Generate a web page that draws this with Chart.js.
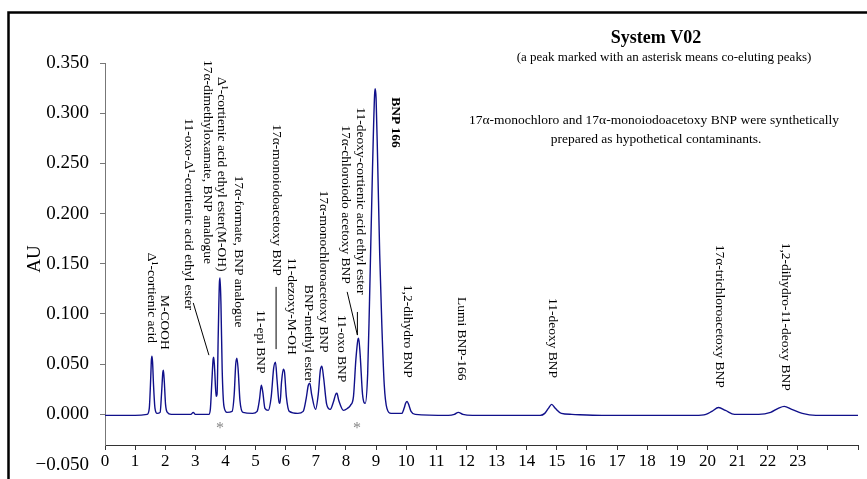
<!DOCTYPE html>
<html>
	<head>
		<title>System V02</title>
		<meta http-equiv="Content-Type" content="text/html; charset=UTF-8" />
		<script src="https://cdn.jsdelivr.net/npm/chart.js@4/dist/chart.umd.min.js"></script>
		<style>
			html, body { margin: 0; padding: 0; background: #fff; }
		</style>
	</head>
	<body>
		<canvas id="myChart" width="867" height="479"></canvas>

		<script>
			// retention time (min) and absorbance (AU)
			var times = [0, 1.0, 1.40, 1.47, 1.52, 1.54, 1.56, 1.58, 1.61, 1.66, 1.73, 1.83, 1.88, 1.92, 1.94, 1.97, 2.01, 2.07, 2.2,
				2.85, 2.93, 3.0, 3.45, 3.50, 3.55, 3.59, 3.61, 3.64, 3.69, 3.72, 3.76, 3.80, 3.82, 3.85, 3.89, 3.95, 4.05,
				4.22, 4.29, 4.34, 4.38, 4.42, 4.48, 4.58, 4.9, 5.05, 5.13, 5.19, 5.24, 5.31, 5.42, 5.52, 5.60, 5.66, 5.71,
				5.78, 5.81, 5.86, 5.92, 5.96, 6.02, 6.12, 6.4, 6.58, 6.68, 6.75, 6.80, 6.86, 6.99, 7.08, 7.15, 7.20, 7.26,
				7.36, 7.48, 7.58, 7.66, 7.70, 7.76, 7.92, 8.05, 8.15, 8.25, 8.33, 8.40, 8.42, 8.47, 8.55, 8.64, 8.72, 8.78,
				8.88, 8.95, 8.97, 9.00, 9.05, 9.12, 9.19, 9.27, 9.36, 9.5, 9.85, 9.93, 9.98, 10.03, 10.08, 10.16, 10.3,
				11.4, 11.6, 11.73, 11.88, 12.2, 14.45, 14.6, 14.72, 14.83, 14.95, 15.15, 15.5, 16.5, 19.6, 19.95, 20.15,
				20.37, 20.6, 20.9, 21.7, 22.1, 22.35, 22.55, 22.8, 23.15, 23.6, 25];
			var au = [-0.001, -0.001, 0.000, 0.006, 0.038, 0.054, 0.058, 0.052, 0.030, 0.006, 0.001, 0.002, 0.022, 0.042, 0.044, 0.032, 0.010, 0.002, 0.000,
				0.000, 0.002, 0.000, 0.000, 0.006, 0.034, 0.055, 0.057, 0.045, 0.018, 0.020, 0.080, 0.132, 0.136, 0.110, 0.045, 0.008, 0.002,
				0.003, 0.020, 0.050, 0.056, 0.045, 0.014, 0.002, 0.001, 0.003, 0.015, 0.029, 0.022, 0.006, 0.004, 0.018, 0.046, 0.052, 0.035,
				0.012, 0.011, 0.032, 0.045, 0.042, 0.018, 0.003, 0.001, 0.003, 0.016, 0.029, 0.031, 0.020, 0.005, 0.020, 0.044, 0.048, 0.036,
				0.010, 0.005, 0.012, 0.020, 0.021, 0.014, 0.004, 0.006, 0.009, 0.018, 0.055, 0.075, 0.076, 0.060, 0.020, 0.011, 0.040, 0.110,
				0.243, 0.318, 0.3245, 0.315, 0.255, 0.160, 0.090, 0.030, 0.006, 0.001, 0.001, 0.006, 0.011, 0.013, 0.010, 0.003, 0.000,
				-0.001, 0.000, 0.002, 0.000, -0.001, -0.001, 0.001, 0.006, 0.010, 0.006, 0.001, 0.000, -0.001, -0.001, 0.000, 0.003,
				0.0068, 0.004, 0.000, 0.000, 0.002, 0.006, 0.008, 0.005, 0.001, -0.001, -0.001];

			// axis ticks
			var xTicks = [0, 1, 2, 3, 4, 5, 6, 7, 8, 9, 10, 11, 12, 13, 14, 15, 16, 17, 18, 19, 20, 21, 22, 23, 24, 25];
			var xTickLabels = ['0', '1', '2', '3', '4', '5', '6', '7', '8', '9', '10', '11', '12', '13', '14', '15', '16', '17', '18', '19', '20', '21', '22', '23', '', ''];
			var yTicks = [0, 0.05, 0.10, 0.15, 0.20, 0.25, 0.30, 0.35];
			var yTickLabels = ['0.000', '0.050', '0.100', '0.150', '0.200', '0.250', '0.300', '0.350'];
			// the time axis crosses the AU axis above its lowest value
			var yAxisBottom = -0.050;
			var xAxisCross = -0.0305;

			// peak names: text, time (min), AU where the text starts
			var peakNames = ['\u0394\u00b9-cortienic acid', 'M-COOH', '11-oxo-\u0394\u00b9-cortienic acid ethyl ester',
				'17\u03b1-dimethyloxamate, BNP analogue', '\u0394\u00b9-cortienic acid ethyl ester(M-OH)', '17\u03b1-formate, BNP analogue',
				'11-epi BNP', '17\u03b1-monoiodoacetoxy BNP', '11-dezoxy-M-OH', 'BNP-methyl ester', '17\u03b1-monochloroacetoxy BNP',
				'11-oxo BNP', '17\u03b1-chloroiodo acetoxy BNP', '11-deoxy-cortienic acid ethyl ester', 'BNP 166', '1,2-dihydro BNP',
				'Lumi BNP-166', '11-deoxy BNP', '17\u03b1-trichloroacetoxy BNP', '1,2-dihydro-11-deoxy BNP'];
			var nameTimes = [1.53, 1.99, 2.79, 3.42, 3.88, 4.42, 5.15, 5.71, 6.21, 6.77, 7.24, 7.87, 7.97, 8.47, 9.63, 10.06, 11.85, 14.87, 20.39, 22.58];
			var nameAU = [0.161, 0.119, 0.295, 0.353, 0.336, 0.238, 0.104, 0.289, 0.156, 0.129, 0.223, 0.099, 0.288, 0.306, 0.316, 0.129, 0.117, 0.116, 0.169, 0.171];

			// leader lines from a name to its peak: [t1, au1, t2, au2]
			var leaders = [[2.93, 0.111, 3.45, 0.059], [5.68, 0.127, 5.68, 0.065], [8.04, 0.122, 8.38, 0.079], [8.38, 0.102, 8.38, 0.079]];
			// co-eluting peaks
			var asteriskTimes = [3.82, 8.37];
			var asteriskAU = -0.0105;

			var serif = 'Liberation Serif, Times New Roman, serif';

			var annotations = {
				id: 'annotations',
				afterDraw: function(chart) {
					var ctx = chart.ctx;
					var xs = chart.scales.x, ys = chart.scales.y;
					var area = chart.chartArea;
					ctx.save();

					// frame round the picture
					ctx.strokeStyle = '#000';
					ctx.lineWidth = 2.5;
					ctx.strokeRect(8.5, 12.5, 900, 500);

					ctx.fillStyle = '#000';
					ctx.textAlign = 'center';
					ctx.textBaseline = 'middle';
					ctx.font = 'bold 18px ' + serif;
					ctx.fillText('System V02', 656, 38);
					ctx.font = '13px ' + serif;
					ctx.fillText('(a peak marked with an asterisk means co-eluting peaks)', 664, 58);
					ctx.font = '13.5px ' + serif;
					ctx.fillText('17\u03b1-monochloro and 17\u03b1-monoiodoacetoxy BNP were synthetically', 654, 120);
					ctx.fillText('prepared as hypothetical contaminants.', 656, 139);

					// axis title
					ctx.save();
					ctx.translate(35, 259);
					ctx.rotate(-Math.PI / 2);
					ctx.font = '19px ' + serif;
					ctx.fillText('AU', 0, 0);
					ctx.restore();

					// lowest value of the AU axis, below where the time axis crosses
					ctx.textAlign = 'right';
					ctx.font = '19px ' + serif;
					ctx.fillText('\u22120.050', area.left - 16, ys.getPixelForValue(yAxisBottom));

					// peak names, turned to read downward
					ctx.textAlign = 'left';
					for (var i = 0; i < peakNames.length; i++) {
						ctx.save();
						ctx.translate(xs.getPixelForValue(nameTimes[i]), ys.getPixelForValue(nameAU[i]));
						ctx.rotate(Math.PI / 2);
						ctx.font = (peakNames[i] == 'BNP 166' ? 'bold ' : '') + '13.5px ' + serif;
						ctx.fillText(peakNames[i], 0, 0);
						ctx.restore();
					}

					ctx.strokeStyle = '#000';
					ctx.lineWidth = 1;
					leaders.forEach(function(l) {
						ctx.beginPath();
						ctx.moveTo(xs.getPixelForValue(l[0]), ys.getPixelForValue(l[1]));
						ctx.lineTo(xs.getPixelForValue(l[2]), ys.getPixelForValue(l[3]));
						ctx.stroke();
					});

					ctx.fillStyle = '#888';
					ctx.textAlign = 'center';
					ctx.textBaseline = 'alphabetic';
					ctx.font = '16px ' + serif;
					asteriskTimes.forEach(function(t) {
						ctx.fillText('*', xs.getPixelForValue(t), ys.getPixelForValue(asteriskAU) + 8);
					});

					ctx.restore();
				}
			};

			var points = times.map(function(t, i) { return { x: t, y: au[i] }; });

			var ctx = document.getElementById('myChart').getContext('2d');
			var chart = new Chart(ctx, {
				type: 'line',
				data: {
					datasets: [{
						label: 'System V02',
						data: points,
						borderColor: '#10108a',
						borderWidth: 1.4,
						pointRadius: 0,
						fill: false,
						cubicInterpolationMode: 'monotone'
					}]
				},
				options: {
					responsive: false,
					animation: false,
					devicePixelRatio: 1,
					layout: { padding: { left: 0, right: 9, top: 63, bottom: 0 } },
					plugins: {
						legend: { display: false },
						tooltip: { enabled: false }
					},
					scales: {
						x: {
							type: 'linear',
							min: 0,
							max: 25,
							afterBuildTicks: function(s) { s.ticks = xTicks.map(function(v) { return { value: v }; }); },
							afterFit: function(s) { s.height = 34; },
							ticks: {
								autoSkip: false,
								maxRotation: 0,
								padding: 1,
								color: '#000',
								font: { family: serif, size: 17 },
								callback: function(v, i) { return xTickLabels[i]; }
							},
							grid: { drawOnChartArea: false, drawTicks: true, tickLength: 5, color: '#333' },
							border: { color: '#333' }
						},
						y: {
							min: xAxisCross,
							max: 0.35,
							afterBuildTicks: function(s) { s.ticks = yTicks.map(function(v) { return { value: v }; }); },
							afterFit: function(s) { s.width = 105; },
							ticks: {
								padding: 11,
								color: '#000',
								font: { family: serif, size: 19 },
								callback: function(v, i) { return yTickLabels[i]; }
							},
							grid: { drawOnChartArea: false, drawTicks: true, tickLength: 5, color: '#777' },
							border: { color: '#777' }
						}
					}
				},
				plugins: [annotations]
			});
		</script>
	</body>
</html>
